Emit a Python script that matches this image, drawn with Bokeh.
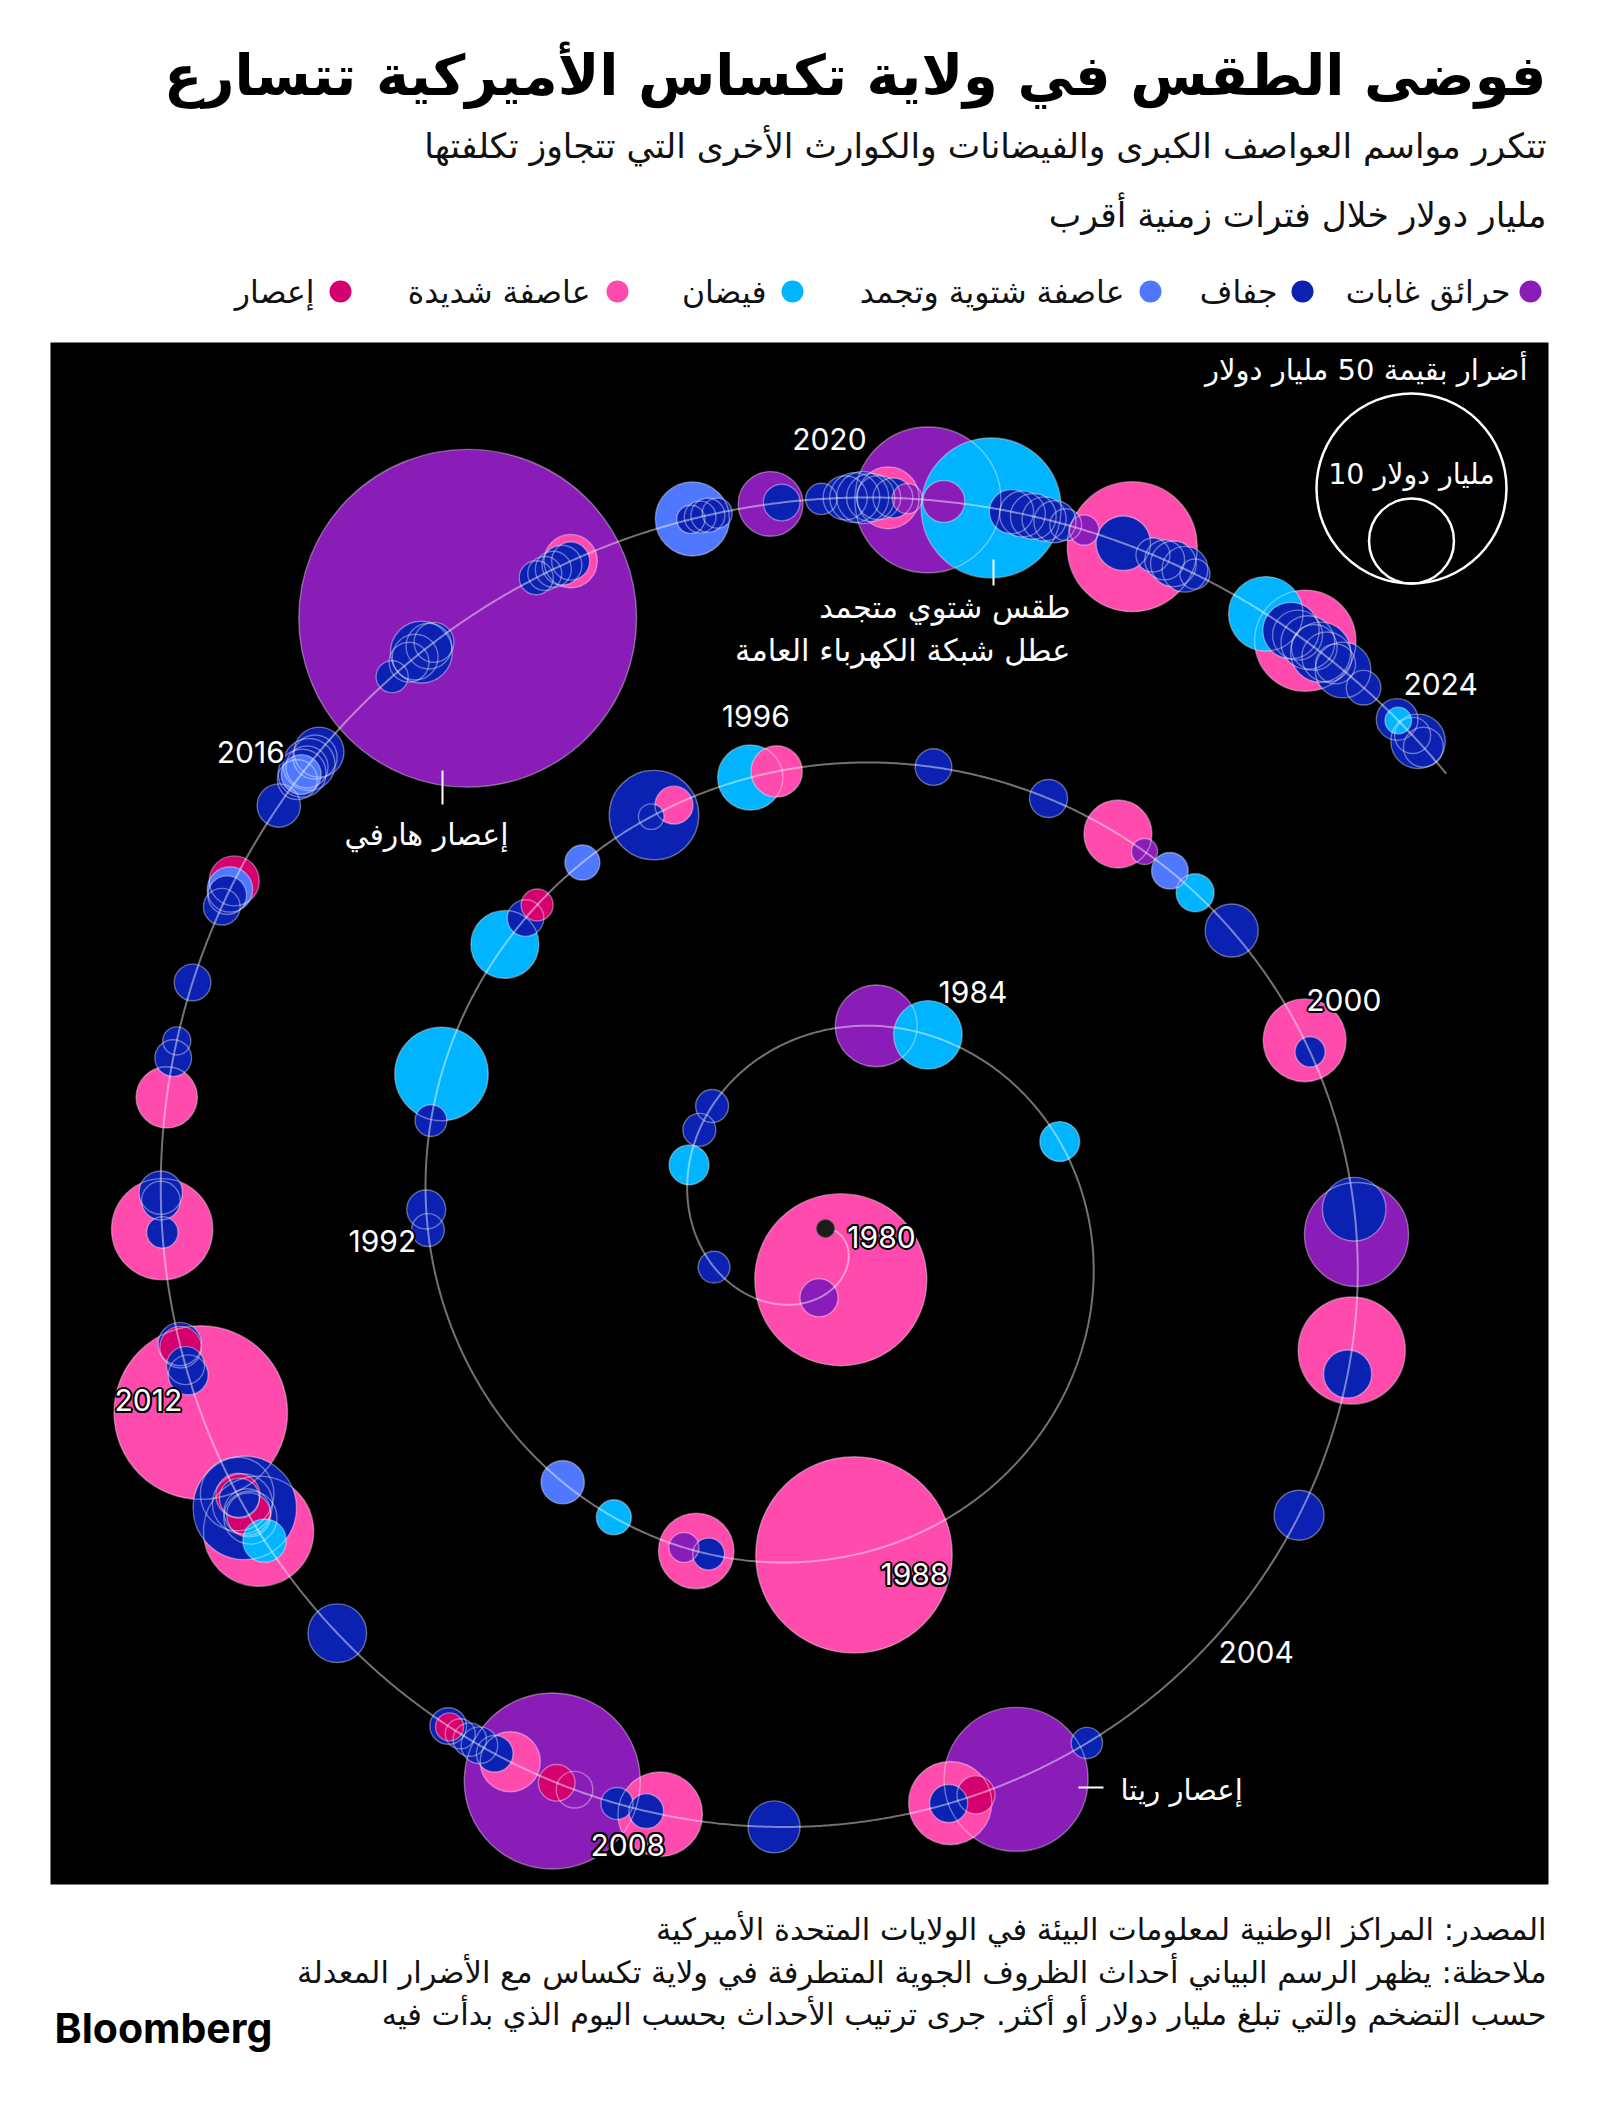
import numpy as np
from bokeh.plotting import figure
from bokeh.models import Range1d, ColumnDataSource
from bokeh.embed import file_html
from bokeh.resources import INLINE
from bokeh.core.properties import value

# ---------------- data ----------------
# event start (decimal year), inflation-adjusted damage (billion $), kind
event_year = [
    1980.41, 1980.59, 1981.33, 1982.01, 1982.24, 1982.41, 1983.61, 1983.94, 1985.03,
    1988.40, 1989.32, 1989.40, 1989.48, 1989.96, 1990.35, 1992.19, 1992.32, 1992.88,
    1993.18, 1994.09, 1994.30, 1994.41, 1994.80, 1995.32, 1995.34, 1995.48, 1995.99,
    1996.16, 1997.15, 1997.90, 1998.39, 1998.59, 1998.79, 1999.00, 1999.33, 2000.16,
    2000.24, 2001.27, 2001.43, 2002.16, 2002.31, 2003.25, 2005.23, 2005.73, 2006.00,
    2006.17, 2006.18, 2007.29, 2008.01, 2008.10, 2008.29, 2008.57, 2008.69, 2008.72,
    2009.01, 2009.12, 2009.23, 2009.30, 2009.37, 2009.45, 2009.46, 2010.37, 2011.11,
    2011.18, 2011.28, 2011.30, 2011.32, 2011.35, 2011.38, 2011.42, 2011.44, 2011.45,
    2012.01, 2012.26, 2012.32, 2012.44, 2012.46, 2013.17, 2013.19, 2013.37, 2013.42,
    2014.02, 2014.27, 2014.38, 2014.76, 2015.27, 2015.35, 2015.39, 2015.45, 2016.00,
    2016.20, 2016.24, 2016.25, 2016.30, 2016.32, 2016.38, 2016.42, 2017.08, 2017.22,
    2017.27, 2017.32, 2017.38, 2017.42, 2017.68, 2018.18, 2018.24, 2018.30, 2018.36,
    2018.42, 2018.42, 2019.22, 2019.23, 2019.28, 2019.33, 2019.39, 2019.73, 2019.80,
    2020.05, 2020.20, 2020.26, 2020.31, 2020.36, 2020.41, 2020.47, 2020.50, 2020.59,
    2020.72, 2020.82, 2021.12, 2021.25, 2021.32, 2021.39, 2021.46, 2021.53, 2021.60,
    2021.72, 2021.98, 2022.04, 2022.18, 2022.26, 2022.32, 2022.40, 2022.47, 2022.98,
    2023.17, 2023.22, 2023.28, 2023.30, 2023.35, 2023.40, 2023.45, 2023.52, 2023.58,
    2023.75, 2024.04, 2024.05, 2024.18, 2024.23, 2024.28,
]
event_cost = [
    41.0, 2.0, 1.4, 2.2, 1.5, 1.5, 9.3, 6.5, 2.2,
    53.5, 1.4, 7.9, 1.25, 1.7, 2.6, 1.5, 2.1, 1.4,
    12.1, 6.4, 1.86, 1.42, 1.7, 0.9, 11.1, 2.0, 5.9,
    3.65, 1.86, 2.0, 6.4, 0.94, 1.86, 2.0, 3.9, 9.5,
    1.25, 5.6, 15.0, 15.9, 3.2, 3.46, 1.36, 28.7, 2.0,
    9.6, 2.0, 3.75, 9.9, 1.66, 1.42, 1.86, 1.86, 42.9,
    5.0, 1.86, 1.86, 1.55, 1.25, 1.09, 1.86, 4.76, 2.6,
    16.8, 3.9, 2.7, 3.0, 14.8, 5.0, 2.2, 2.7, 7.5,
    41.7, 2.2, 2.0, 2.4, 2.6, 1.36, 14.2, 2.07, 2.6,
    5.2, 1.86, 1.09, 1.86, 1.86, 2.07, 2.85, 3.46, 2.6,
    2.2, 2.2, 3.2, 2.45, 3.75, 2.7, 3.46, 1.42, 2.2,
    2.9, 5.3, 2.9, 2.2, 158.0, 1.6, 1.6, 1.8, 2.2,
    3.95, 2.0, 1.1, 7.6, 1.4, 1.6, 1.25, 5.8, 1.86,
    1.36, 2.7, 3.46, 3.75, 3.2, 2.7, 5.3, 2.2, 1.25,
    29.5, 2.44, 27.1, 2.7, 2.9, 2.9, 2.7, 2.45, 1.4,
    1.25, 4.1, 23.4, 1.6, 2.2, 2.9, 2.9, 1.25, 7.7,
    4.4, 3.46, 14.2, 4.0, 2.9, 5.0, 3.46, 2.2, 4.3,
    1.66, 2.4, 0.98, 1.8, 4.1, 2.2,
]
event_kind = [
    "D", "H", "S", "F", "S", "S", "H", "F", "F",
    "D", "S", "D", "H", "F", "L", "S", "S", "S",
    "F", "F", "S", "W", "L", "S", "S", "D", "F",
    "D", "S", "S", "D", "H", "L", "F", "S", "D",
    "S", "S", "H", "D", "S", "S", "S", "H", "W",
    "D", "S", "S", "D", "S", "S", "H", "W", "H",
    "D", "S", "S", "S", "S", "W", "S", "S", "F",
    "D", "S", "W", "S", "S", "S", "S", "W", "S",
    "D", "S", "S", "W", "S", "S", "D", "S", "S",
    "D", "S", "S", "S", "S", "S", "L", "W", "S",
    "S", "L", "S", "S", "S", "S", "S", "S", "S",
    "S", "S", "S", "S", "H", "S", "S", "S", "S",
    "D", "S", "S", "L", "S", "S", "S", "H", "S",
    "S", "S", "S", "S", "S", "S", "D", "S", "H",
    "H", "H", "F", "S", "S", "S", "S", "S", "S",
    "H", "S", "D", "S", "S", "S", "S", "S", "F",
    "S", "S", "D", "S", "S", "S", "S", "S", "S",
    "S", "S", "F", "S", "S", "S",
]
kind_color = {
    "H": "#8A1CB8",  # purple
    "S": "#0A21B2",  # navy
    "L": "#4F78FF",  # medium blue
    "F": "#00B4FF",  # cyan
    "D": "#FF4AAE",  # pink
    "W": "#D4006F",  # magenta
}

year_labels = [1980, 1984, 1988, 1992, 1996, 2000, 2004, 2008, 2012, 2016, 2020, 2024]
spiral_start, spiral_end = 1980.0, 2024.5

legend_labels = ["حرائق غابات", "جفاف", "عاصفة شتوية وتجمد", "فيضان", "عاصفة شديدة", "إعصار"]
legend_kinds = ["H", "S", "L", "F", "D", "W"]

scale_costs = [50, 10]
scale_texts = ["أضرار بقيمة 50 مليار دولار", "10 مليار دولار"]

title_text = "فوضى الطقس في ولاية تكساس الأميركية تتسارع"
subtitle_lines = [
    "تتكرر مواسم العواصف الكبرى والفيضانات والكوارث الأخرى التي تتجاوز تكلفتها",
    "مليار دولار خلال فترات زمنية أقرب",
]
footer_lines = [
    "المصدر: المراكز الوطنية لمعلومات البيئة في الولايات المتحدة الأميركية",
    "ملاحظة: يظهر الرسم البياني أحداث الظروف الجوية المتطرفة في ولاية تكساس مع الأضرار المعدلة",
    "حسب التضخم والتي تبلغ مليار دولار أو أكثر. جرى ترتيب الأحداث بحسب اليوم الذي بدأت فيه",
]
ann_harvey = "إعصار هارفي"
ann_uri = ["طقس شتوي متجمد", "عطل شبكة الكهرباء العامة"]
ann_rita = "إعصار ريتا"

# ---------------- geometry / style ----------------
W, H = 1600, 2105
CX, CY = 825.0, 1228.0          # spiral centre (page px)
B = 42.28                       # spiral growth, px per radian
SPEED = 159.3                   # px of spiral arc per year
THETA0 = np.radians(91.0)
R50 = 95.0                      # radius (px) of a 50 bn circle

AR_FONT = value("DejaVu Sans")
NUM_FONT = value("Inter")

phi_grid = np.linspace(0, 20, 40001)
s_grid = B / 2 * (phi_grid * np.sqrt(1 + phi_grid ** 2) + np.arcsinh(phi_grid))


def spiral_xy(years):
    s = SPEED * (np.asarray(years, float) - 1980.0)
    phi = np.interp(s, s_grid, phi_grid)
    th = THETA0 + phi
    r = B * phi
    return r * np.sin(th), r * np.cos(th)


def px(x):
    return np.asarray(x, float) - CX


def py(y):
    return CY - np.asarray(y, float)


def radius_of(cost):
    return R50 * np.sqrt(np.asarray(cost, float) / 50.0)


p = figure(width=W, height=H, x_range=Range1d(-CX, W - CX), y_range=Range1d(CY - H, CY),
           output_backend="svg", toolbar_location=None, x_axis_location=None,
           y_axis_location=None, min_border=0, title=None,
           background_fill_color="white", border_fill_color="white", outline_line_color=None)
p.xgrid.visible = False
p.ygrid.visible = False

# black chart panel
p.quad(left=[px(50)], right=[px(1548)], top=[py(342)], bottom=[py(1884)],
       fill_color="black", line_color=None)

# events
ex, ey = spiral_xy(event_year)
er = radius_of(event_cost)
ecol = [kind_color[k] for k in event_kind]
order = np.argsort(-er, kind="stable")
src = ColumnDataSource(dict(x=ex[order], y=ey[order], r=er[order],
                            c=[ecol[i] for i in order]))
p.circle(x="x", y="y", radius="r", fill_color="c", fill_alpha=1.0, line_color=None, source=src)
p.circle(x="x", y="y", radius="r", fill_color=None, line_color="white", line_alpha=0.38,
         line_width=1.4, source=src)

# spiral path on top
ts = np.linspace(spiral_start, spiral_end, 3000)
sx, sy = spiral_xy(ts)
p.line(sx, sy, line_color="white", line_alpha=0.45, line_width=2)

# start marker
x0, y0 = spiral_xy([spiral_start])
p.circle(x=x0, y=y0, radius=9, fill_color="#1c1c1c", line_color="#555555", line_width=1)

# year labels
lab_dx = [56, 36, 0, -50, 4, 51, 22, -34, -53, -28, 16, 48]
lab_dy = [8, -46, 39, -19, -61, -18, 37, 30, -14, -54, -60, -31]
lx, ly = spiral_xy(year_labels)
lx = lx + np.array(lab_dx)
ly = ly - np.array(lab_dy)
ltxt = [str(y) for y in year_labels]
for ox, oy in [(-2, 0), (2, 0), (0, -2), (0, 2), (-1.5, -1.5), (1.5, 1.5), (-1.5, 1.5), (1.5, -1.5)]:
    p.text(lx, ly, text=ltxt, x_offset=ox, y_offset=oy, text_font=NUM_FONT, text_font_size="30px",
           text_color="black", text_align="center", text_baseline="middle")
p.text(lx, ly, text=ltxt, text_font=NUM_FONT, text_font_size="30px", text_color="white",
       text_align="center", text_baseline="middle")

# size key
sr = radius_of(scale_costs)
p.circle(x=[px(1411)] * 2, y=list(py(583) + sr), radius=sr, fill_color=None,
         line_color="white", line_width=2.5)
p.text([px(1527)], [py(369)], text=[scale_texts[0]], text_font=AR_FONT, text_font_size="29px",
       text_color="white", text_align="right", text_baseline="middle")
p.text([px(1411)], [py(474)], text=[scale_texts[1]], text_font=AR_FONT, text_font_size="28.5px",
       text_color="white", text_align="center", text_baseline="middle")

# annotations
p.segment(x0=[px(442)], y0=[py(770)], x1=[px(442)], y1=[py(804)], line_color="white", line_width=2)
p.text([px(426)], [py(834)], text=[ann_harvey], text_font=AR_FONT, text_font_size="30px",
       text_color="white", text_align="center", text_baseline="middle")
p.segment(x0=[px(993)], y0=[py(559)], x1=[px(993)], y1=[py(585)], line_color="white", line_width=2)
p.text([px(1070)] * 2, [py(607), py(650)], text=ann_uri, text_font=AR_FONT, text_font_size="30.5px",
       text_color="white", text_align="right", text_baseline="middle")
p.segment(x0=[px(1078)], y0=[py(1787)], x1=[px(1103)], y1=[py(1787)], line_color="white", line_width=2)
p.text([px(1120)], [py(1789)], text=[ann_rita], text_font=AR_FONT, text_font_size="29px",
       text_color="white", text_align="left", text_baseline="middle")

# header
p.text([px(1546)], [py(75)], text=[title_text], text_font=AR_FONT, text_font_size="56px",
       text_font_style="bold", text_color="black", text_align="right", text_baseline="middle")
p.text([px(1546)] * 2, [py(145), py(214)], text=subtitle_lines, text_font=AR_FONT,
       text_font_size="34.5px", text_color="#111111", text_align="right", text_baseline="middle")

# legend
leg_dot_x = [1530, 1302, 1150, 792, 617, 340]
leg_txt_x = [1510, 1277, 1124, 766, 590, 314]
p.circle(x=px(leg_dot_x), y=[py(291)] * 6, radius=11,
         fill_color=[kind_color[k] for k in legend_kinds], line_color=None)
p.text(px(leg_txt_x), [py(291)] * 6, text=legend_labels, text_font=AR_FONT, text_font_size="31.5px",
       text_color="#111111", text_align="right", text_baseline="middle")

# footer
p.text([px(1546)] * 3, [py(1929), py(1972), py(2014)], text=footer_lines, text_font=AR_FONT,
       text_font_size="30.5px", text_color="#111111", text_align="right", text_baseline="middle")
p.text([px(54)], [py(2027)], text=["Bloomberg"], text_font=NUM_FONT, text_font_size="41px",
       text_font_style="bold", text_color="black", text_align="left", text_baseline="middle")

open("out.html", "w").write(file_html(p, INLINE))
